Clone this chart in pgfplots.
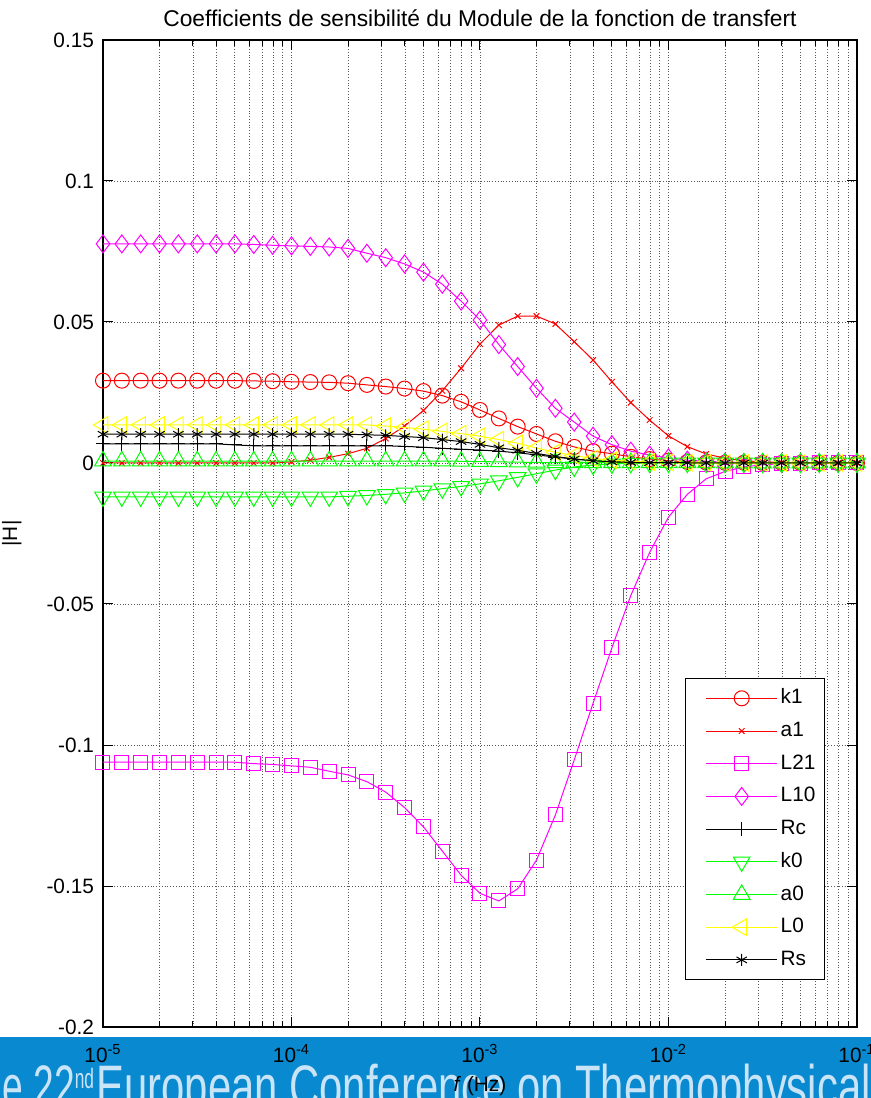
\documentclass[border=0pt]{standalone}
\usepackage{fontspec}
\setmainfont{Liberation Sans}
\usepackage{pgfplots}
\pgfplotsset{compat=1.18}
\usepackage{pgfplotstable}

\definecolor{banner}{RGB}{8,137,208}
\definecolor{bannertext}{RGB}{200,228,246}
\definecolor{mred}{RGB}{255,0,0}
\definecolor{mmag}{RGB}{255,0,255}
\definecolor{mgreen}{RGB}{0,255,0}
\definecolor{myellow}{RGB}{255,255,0}
\newcommand\ff{\fontsize{10.4}{12}\selectfont}

% sensitivity coefficients, 10 points per decade
\pgfplotstableread{
f         k1      a1      L21      L10     Rc      k0       a0      L0      Rs
1.000e-5  0.0292  0       -0.1061  0.0777  0.0068  -0.0120  0.0007  0.0135  0.0102
1.259e-5  0.0292  0       -0.1061  0.0777  0.0068  -0.0120  0.0007  0.0135  0.0102
1.585e-5  0.0292  0       -0.1061  0.0777  0.0068  -0.0120  0.0007  0.0135  0.0102
1.995e-5  0.0292  0       -0.1061  0.0777  0.0068  -0.0120  0.0007  0.0135  0.0102
2.512e-5  0.0292  0       -0.1061  0.0777  0.0068  -0.0120  0.0007  0.0135  0.0102
3.162e-5  0.0292  0       -0.1061  0.0777  0.0068  -0.0120  0.0007  0.0135  0.0102
3.981e-5  0.0292  0       -0.1061  0.0777  0.0068  -0.0120  0.0007  0.0135  0.0102
5.012e-5  0.0292  0       -0.1061  0.0777  0.0064  -0.0120  0.0007  0.0135  0.0102
6.310e-5  0.0291  0       -0.1066  0.0775  0.0061  -0.0120  0.0007  0.0135  0.0102
7.943e-5  0.0290  0       -0.1069  0.0772  0.0061  -0.0120  0.0007  0.0135  0.0102
1.000e-4  0.0288  0.0004  -0.1074  0.0770  0.0061  -0.0120  0.0007  0.0135  0.0102
1.259e-4  0.0287  0.0010  -0.1079  0.0768  0.0061  -0.0120  0.0007  0.0135  0.0102
1.585e-4  0.0286  0.0020  -0.1093  0.0766  0.0061  -0.0120  0.0007  0.0135  0.0102
1.995e-4  0.0283  0.0033  -0.1106  0.0761  0.0061  -0.0118  0.0007  0.0135  0.0102
2.512e-4  0.0277  0.0052  -0.1130  0.0744  0.0061  -0.0115  0.0007  0.0135  0.0100
3.162e-4  0.0271  0.0087  -0.1167  0.0728  0.0061  -0.0111  0.0007  0.0131  0.0098
3.981e-4  0.0264  0.0131  -0.1222  0.0706  0.0059  -0.0106  0.0007  0.0126  0.0094
5.012e-4  0.0255  0.0186  -0.1290  0.0677  0.0056  -0.0099  0.0007  0.0120  0.0090
6.310e-4  0.0239  0.0256  -0.1376  0.0634  0.0052  -0.0091  0.0007  0.0112  0.0083
7.943e-4  0.0217  0.0336  -0.1462  0.0574  0.0049  -0.0083  0.0006  0.0104  0.0076
1.000e-3  0.0188  0.0422  -0.1526  0.0507  0.0046  -0.0074  0.0005  0.0095  0.0066
1.259e-3  0.0158  0.0489  -0.1553  0.0420  0.0042  -0.0063  0.0004  0.0083  0.0054
1.585e-3  0.0129  0.0521  -0.1510  0.0342  0.0036  -0.0051  0.0003  0.0070  0.0045
1.995e-3  0.0103  0.0521  -0.1408  0.0265  0.0029  -0.0038  0.0002  0.0053  0.0034
2.512e-3  0.0077  0.0493  -0.1248  0.0194  0.0021  -0.0025  0.0001  0.0038  0.0023
3.162e-3  0.0057  0.0430  -0.1053  0.0145  0.0014  -0.0014  0.0001  0.0026  0.0014
3.981e-3  0.0042  0.0365  -0.0852  0.0095  0.0009  -0.0007  0.0001  0.0016  0.0008
5.012e-3  0.0033  0.0288  -0.0655  0.0065  0.0005  -0.0003  0.0001  0.0010  0.0004
6.310e-3  0.0022  0.0214  -0.0470  0.0042  0.0003  -0.0001  0.0001  0.0006  0.0002
7.943e-3  0.0014  0.0152  -0.0317  0.0028  0.0001  0       0.0001  0.0003  0.0001
1.000e-2  0.0008  0.0096  -0.0192  0.0018  0.0001  0       0.0001  0.0002  0.0001
1.259e-2  0.0004  0.0058  -0.0111  0.0010  0.0001  0       0.0001  0.0001  0.0001
1.585e-2  0.0002  0.0032  -0.0056  0.0006  0       0       0.0001  0.0001  0
1.995e-2  0.0001  0.0017  -0.0030  0.0003  0       0       0       0       0
2.512e-2  0.0001  0.0008  -0.0014  0.0001  0       0       0       0       0
3.162e-2  0       0.0004  -0.0006  0.0001  0       0       0       0       0
3.981e-2  0       0.0002  -0.0003  0       0       0       0       0       0
5.012e-2  0       0.0001  -0.0001  0       0       0       0       0       0
6.310e-2  0       0       0        0       0       0       0       0       0
7.943e-2  0       0       0        0       0       0       0       0       0
1.000e-1  0       0       0        0       0       0       0       0       0
}\sens

\begin{document}
\begin{tikzpicture}
\useasboundingbox (-51.5pt,-35.5pt) rectangle (384pt,513.5pt);
\clip (-51.5pt,-35.5pt) rectangle (384pt,513.5pt);
% slide banner under the figure
\fill[banner] (-51.5pt,-35.5pt) rectangle (384pt,-5pt);
\node[anchor=base east, text=bannertext, font=\fontsize{30}{32}\selectfont,
  xscale=0.697, inner sep=0pt] at (384pt,-40pt)
  {European Conference on Thermophysical};
\node[anchor=base east, text=bannertext, font=\fontsize{30}{32}\selectfont,
  xscale=0.62, inner sep=0pt] at (-4pt,-40pt)
  {the 22\textsuperscript{\fontsize{14}{14}\selectfont nd}};

\begin{axis}[
  at={(0pt,0pt)}, anchor=south west,
  width=377pt, height=493.5pt, scale only axis,
  xmode=log, xmin=1e-5, xmax=1e-1,
  ymin=-0.2, ymax=0.15,
  xtick={1e-5,1e-4,1e-3,1e-2,1e-1},
  xticklabels={10\textsuperscript{-5},10\textsuperscript{-4},10\textsuperscript{-3},10\textsuperscript{-2},10\textsuperscript{-1}},
  ytick={-0.2,-0.15,-0.1,-0.05,0,0.05,0.1,0.15},
  yticklabels={-0.2,-0.15,-0.1,-0.05,0,0.05,0.1,0.15},
  tick align=inside,
  major tick length=5pt, minor tick length=3pt,
  every tick/.style={black, line width=0.5pt},
  grid=both,
  major grid style={densely dotted, black!65, line width=0.4pt},
  minor grid style={densely dotted, black!65, line width=0.4pt},
  axis line style={line width=0.7pt},
  tick label style={font=\ff},
  xticklabel style={anchor=base, yshift=-17.5pt},
  yticklabel style={anchor=east, xshift=-1pt},
  title={Coefficients de sensibilité du Module de la fonction de transfert},
  title style={font=\fontsize{11.4}{13}\selectfont, anchor=base, at={(0.5,1)}, yshift=0.5pt},
  xlabel={\textit{f} (Hz)},
  xlabel style={font=\ff, anchor=center, at={(axis description cs:0.5,-0.06)}},
  ylabel={|H|},
  ylabel style={font=\ff, anchor=center, at={(axis description cs:-0.121,0.5)}},
  legend style={at={(axis description cs:0.9576,0.0476)}, anchor=south east,
    draw=black, line width=0.6pt, fill=white, font=\ff,
    inner xsep=3pt, inner ysep=3.5pt, row sep=3.85pt,
    nodes={inner sep=1.5pt, text height=7.5pt, text depth=2pt}},
  legend cell align=left,
  legend image code/.code={\path (-7pt,0pt);
    \draw[line width=0.5pt, mark repeat=2, mark phase=2, #1]
    plot coordinates {(0pt,0pt) (17.75pt,0pt) (35.5pt,0pt)};},
  every axis plot/.append style={line width=0.5pt},
  clip mode=individual,
]
\addplot[color=mred, mark=o, mark size=3.75pt] table[x=f, y=k1] {\sens};
\addplot[color=mred, mark=x, mark size=2pt] table[x=f, y=a1] {\sens};
\addplot[color=mmag, mark=square, mark size=3.5pt] table[x=f, y=L21] {\sens};
\addplot[color=mmag, mark=diamond, mark size=4.5pt] table[x=f, y=L10] {\sens};
\addplot[color=black, mark=+, mark size=3.5pt] table[x=f, y=Rc] {\sens};
\addplot[color=mgreen, mark=triangle, mark size=4.8pt, mark options={rotate=180}] table[x=f, y=k0] {\sens};
\addplot[color=mgreen, mark=triangle, mark size=4.8pt] table[x=f, y=a0] {\sens};
\addplot[color=myellow, mark=triangle, mark size=4.8pt, mark options={rotate=90}] table[x=f, y=L0] {\sens};
\addplot[color=black, mark=asterisk, mark size=3pt] table[x=f, y=Rs] {\sens};
\legend{k1,a1,L21,L10,Rc,k0,a0,L0,Rs}
\end{axis}
\end{tikzpicture}
\end{document}
